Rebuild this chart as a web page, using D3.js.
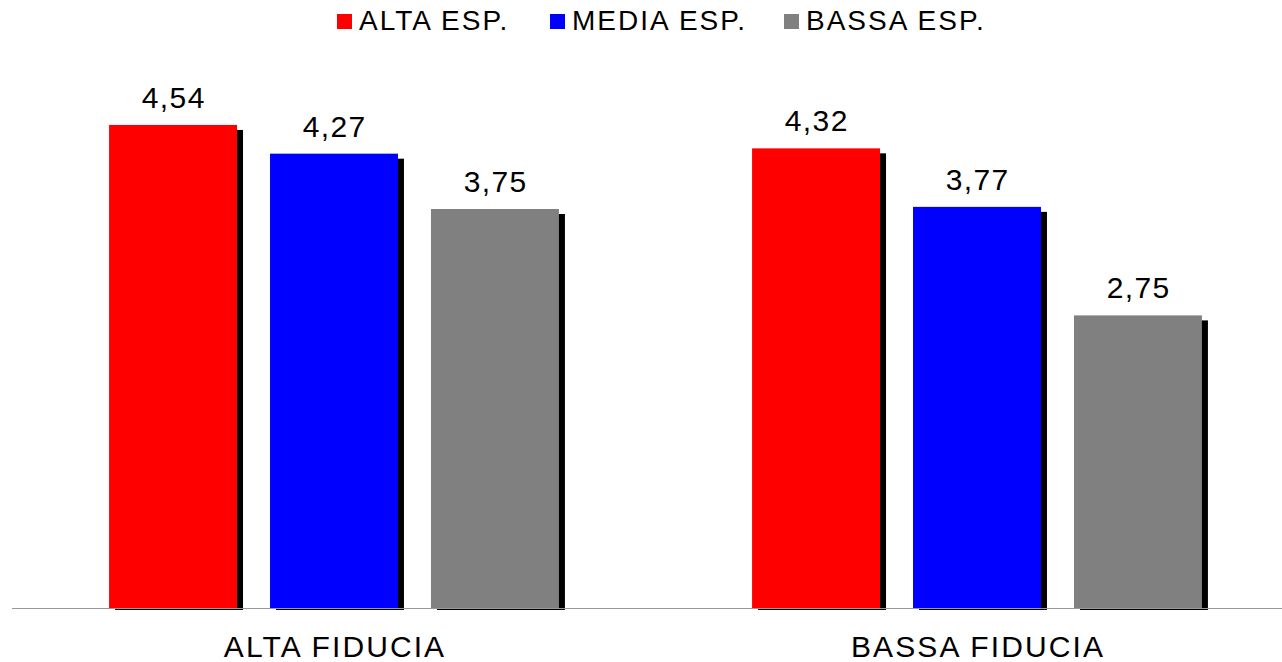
<!DOCTYPE html>
<html><head><meta charset="utf-8">
<script src="https://cdn.jsdelivr.net/npm/d3@7"></script>
<style>html,body{margin:0;padding:0;background:#fff;}svg{display:block;}</style>
</head><body>
<svg id="chart" width="1282" height="662"></svg>
<script>
const categories = ["ALTA FIDUCIA", "BASSA FIDUCIA"];
const seriesNames = ["ALTA ESP.", "MEDIA ESP.", "BASSA ESP."];
const seriesColors = ["#ff0000", "#0000ff", "#808080"];
const altaEsp = [4.54, 4.32];
const mediaEsp = [4.27, 3.77];
const bassaEsp = [3.75, 2.75];
const seriesValues = [altaEsp, mediaEsp, bassaEsp];

const W = 1282, H = 662;
const font = "'Liberation Sans', Arial, sans-serif";
const svg = d3.select("#chart");

const x0 = d3.scaleBand().domain(categories).range([12.5, 1298.5]);
const x1 = d3.scaleBand().domain(seriesNames).range([0, x0.bandwidth()]).paddingInner(0.205).paddingOuter(0.6);
const y = d3.scaleLinear().domain([0, 5]).range([608, 76]);

const data = [];
categories.forEach((c, ci) => seriesNames.forEach((s, si) => data.push({c, s, si, v: seriesValues[si][ci]})));

const g = svg.append("g");
// shadows
g.selectAll("rect.shadow").data(data).enter().append("rect")
  .attr("x", d => x0(d.c) + x1(d.s) + 6)
  .attr("y", d => y(d.v) + 5)
  .attr("width", x1.bandwidth())
  .attr("height", d => y(0) - y(d.v) - 3)
  .attr("fill", "#000");
// bars
g.selectAll("rect.bar").data(data).enter().append("rect")
  .attr("x", d => x0(d.c) + x1(d.s))
  .attr("y", d => y(d.v))
  .attr("width", x1.bandwidth())
  .attr("height", d => y(0) - y(d.v))
  .attr("fill", d => seriesColors[d.si]);
// value labels
g.selectAll("text.val").data(data).enter().append("text")
  .attr("x", d => x0(d.c) + x1(d.s) + x1.bandwidth() / 2 + 0.7)
  .attr("y", d => y(d.v) - 17)
  .attr("text-anchor", "middle")
  .attr("font-family", font).attr("font-size", 30).attr("letter-spacing", 1.4)
  .text(d => d3.format(".2f")(d.v).replace(".", ","));

// axis
const xAxis = d3.axisBottom(x0).tickSize(0).tickPadding(0);
const ax = svg.append("g").attr("transform", `translate(0,${y(0)})`).call(xAxis);
ax.select(".domain").attr("d", `M12,0.5H${W}`).attr("stroke", "#999").attr("stroke-width", 1);
ax.selectAll("text").attr("font-family", font).attr("font-size", 30).attr("fill", "#000")
  .attr("letter-spacing", 2.1).attr("x", 1)
  .attr("dy", null).attr("y", 49);

// legend
const legendX = [337, 550, 784];
const lg = svg.append("g").selectAll("g").data(seriesNames).enter().append("g")
  .attr("transform", (d, i) => `translate(${legendX[i]},0)`);
lg.append("rect").attr("x", 0).attr("y", 14).attr("width", 15).attr("height", 15)
  .attr("fill", (d, i) => seriesColors[i]);
lg.append("text").attr("x", 22).attr("y", 29.5)
  .attr("font-family", font).attr("font-size", 28).attr("fill", "#000").attr("letter-spacing", 2)
  .text(d => d);
</script>
</body></html>
